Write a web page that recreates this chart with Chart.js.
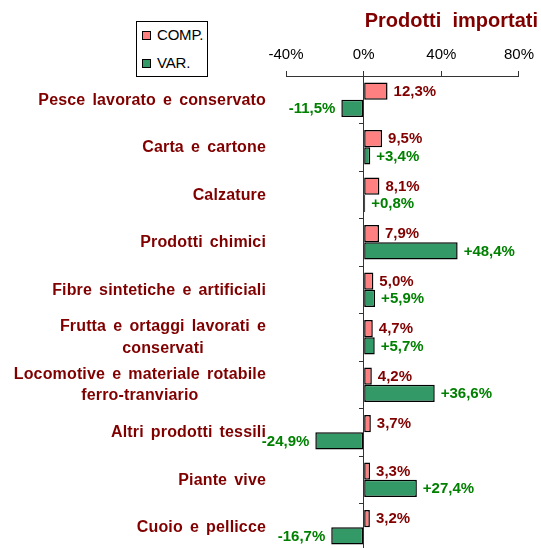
<!DOCTYPE html>
<html>
<head>
<meta charset="utf-8">
<script src="https://cdn.jsdelivr.net/npm/chart.js@4/dist/chart.umd.min.js"></script>
<style>
  html, body { margin: 0; padding: 0; background: #ffffff; }
  #wrap { position: relative; width: 541px; height: 548px; overflow: hidden; }
  #legend { position: absolute; left: 136px; top: 21px; width: 70px; height: 54px;
            border: 1px solid #000; background: #fff; font-family: "Liberation Sans", Arial, sans-serif;
            font-size: 15px; color: #000; }
  .lg-row { position: absolute; left: 0; height: 18px; line-height: 18px; white-space: nowrap; }
  .lg-box { position: absolute; left: 5px; top: 5px; width: 7px; height: 7px; border: 1px solid #000; }
  .lg-txt { position: absolute; left: 20px; top: 0; letter-spacing: -0.2px; }
</style>
</head>
<body>
<div id="wrap">
  <canvas id="c" width="541" height="551"></canvas>
  <div id="legend"></div>
</div>
<script>
const categories = [
  "Pesce lavorato e conservato",
  "Carta e cartone",
  "Calzature",
  "Prodotti chimici",
  "Fibre sintetiche e artificiali",
  ["Frutta e ortaggi lavorati e", "conservati"],
  ["Locomotive e materiale rotabile", "ferro-tranviario"],
  "Altri prodotti tessili",
  "Piante vive",
  "Cuoio e pellicce"
];
const compValues = [12.3, 9.5, 8.1, 7.9, 5.0, 4.7, 4.2, 3.7, 3.3, 3.2];
const varValues = [-11.5, 3.4, 0.8, 48.4, 5.9, 5.7, 36.6, -24.9, 27.4, -16.7];
const xTickValues = [-40, 0, 40, 80];
const seriesNames = ["COMP.", "VAR."];
const chartTitle = "Prodotti  importati";

const FONT = '"Liberation Sans", Arial, sans-serif';
const DARK_RED = '#800000';
const GREEN_TXT = '#008000';
const seriesFill = ['#FF8080', '#339966'];
const seriesLabelColor = [DARK_RED, GREEN_TXT];

function fmt(v, plus) {
  const s = Math.abs(v).toFixed(1).replace('.', ',') + '%';
  if (v < 0) return '-' + s;
  return (plus ? '+' : '') + s;
}

const valueLabels = {
  id: 'valueLabels',
  afterDatasetsDraw(chart) {
    const ctx = chart.ctx;
    ctx.save();
    ctx.font = 'bold 15px ' + FONT;
    ctx.textBaseline = 'middle';
    chart.data.datasets.forEach((ds, di) => {
      const meta = chart.getDatasetMeta(di);
      meta.data.forEach((bar, i) => {
        const v = ds.data[i];
        const p = bar.getProps(['x', 'y'], true);
        ctx.fillStyle = seriesLabelColor[di];
        if (v >= 0) {
          ctx.textAlign = 'left';
          ctx.fillText(fmt(v, di === 1), p.x + 6, p.y + 0.5);
        } else {
          ctx.textAlign = 'right';
          ctx.fillText(fmt(v, di === 1), p.x - 6, p.y + 0.5);
        }
      });
    });
    ctx.restore();
  }
};

const categoryLabels = {
  id: 'categoryLabels',
  afterDraw(chart) {
    const ctx = chart.ctx;
    const ys = chart.scales.y;
    const xRight = chart.chartArea.left - 20;
    const lineH = 21.5;
    ctx.save();
    ctx.font = 'bold 16px ' + FONT;
    if ('letterSpacing' in ctx) ctx.letterSpacing = '0.15px';
    if ('wordSpacing' in ctx) ctx.wordSpacing = '2.5px';
    ctx.fillStyle = DARK_RED;
    ctx.textBaseline = 'middle';
    ctx.textAlign = 'center';
    chart.data.labels.forEach((lab, i) => {
      const lines = Array.isArray(lab) ? lab : [lab];
      const w = Math.max(...lines.map(l => ctx.measureText(l).width));
      const xc = xRight - w / 2;
      const yc = ys.getPixelForValue(i);
      const y0 = yc - (lines.length - 1) * lineH / 2;
      lines.forEach((l, k) => ctx.fillText(l, xc, y0 + k * lineH + 0.5));
    });
    ctx.restore();
  }
};

const chart = new Chart(document.getElementById('c'), {
  type: 'bar',
  data: {
    labels: categories,
    datasets: [
      { label: seriesNames[0], data: compValues, backgroundColor: seriesFill[0],
        borderColor: '#000', borderWidth: 1.5, borderSkipped: false,
        categoryPercentage: 0.73, barPercentage: 1.0 },
      { label: seriesNames[1], data: varValues, backgroundColor: seriesFill[1],
        borderColor: '#000', borderWidth: 1.5, borderSkipped: false,
        categoryPercentage: 0.73, barPercentage: 1.0 }
    ]
  },
  options: {
    indexAxis: 'y',
    responsive: false,
    animation: false,
    devicePixelRatio: 1,
    layout: { padding: { left: 286, right: 3, top: 0, bottom: 0 } },
    plugins: {
      legend: { display: false },
      tooltip: { enabled: false },
      title: {
        display: true, text: chartTitle, align: 'end', color: DARK_RED,
        font: { family: FONT, size: 20, weight: 'bold', lineHeight: 1.2 },
        padding: { top: 9, bottom: 6 }
      }
    },
    scales: {
      x: {
        position: 'top', min: -40, max: 80,
        afterBuildTicks: s => { s.ticks = xTickValues.map(v => ({ value: v })); },
        ticks: { callback: v => v + '%', color: '#000', padding: 7,
                 font: { family: FONT, size: 15, lineHeight: 1.2 } },
        grid: { display: true, drawOnChartArea: false, drawTicks: true, tickLength: 5,
                tickColor: '#333', tickWidth: 1 },
        border: { display: true, color: '#333', width: 1 }
      },
      y: {
        position: { x: 0 },
        ticks: { display: false },
        grid: { display: true, drawOnChartArea: false, drawTicks: true, tickLength: 4,
                offset: true, tickColor: '#333', tickWidth: 1 },
        border: { display: true, color: '#333', width: 1 }
      },
      yR: {
        axis: 'y', type: 'category', position: 'right', display: true,
        ticks: { display: false }, grid: { display: false }, border: { display: false },
        afterFit: s => { s.width = 18; }
      }
    }
  },
  plugins: [valueLabels, categoryLabels]
});

// HTML legend built from the datasets
const lg = document.getElementById('legend');
chart.data.datasets.forEach((ds, i) => {
  const row = document.createElement('div');
  row.className = 'lg-row';
  row.style.top = (4 + i * 28) + 'px';
  const box = document.createElement('span');
  box.className = 'lg-box';
  box.style.background = ds.backgroundColor;
  const txt = document.createElement('span');
  txt.className = 'lg-txt';
  txt.textContent = ds.label;
  row.appendChild(box); row.appendChild(txt);
  lg.appendChild(row);
});
</script>
</body>
</html>
